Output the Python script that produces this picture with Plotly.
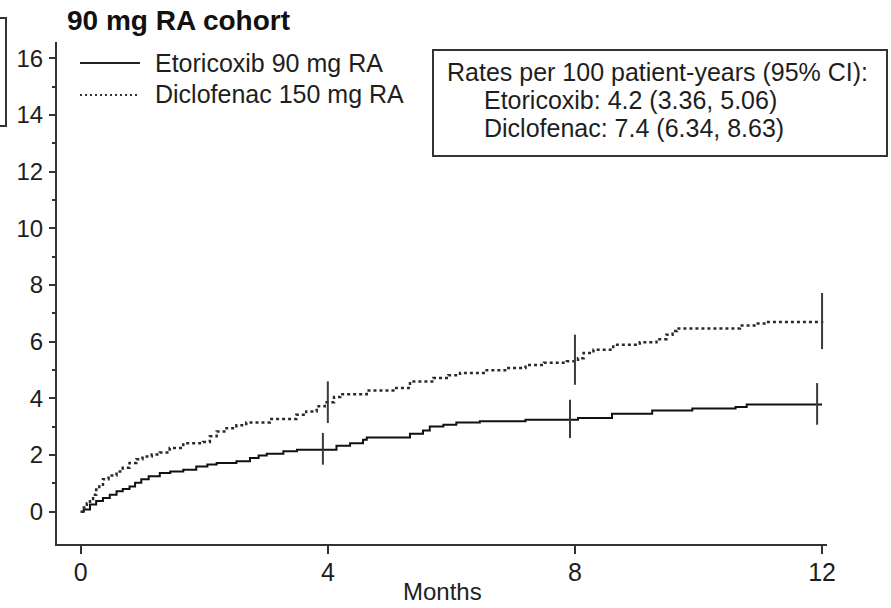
import plotly.graph_objects as go

# Cumulative incidence (%) by month, step curves
etor_months = [0, 0.05, 0.15, 0.25, 0.36, 0.47, 0.58, 0.68, 0.79, 0.88, 0.98, 1.1, 1.28, 1.45,
               1.66, 1.87, 2.05, 2.2, 2.52, 2.74, 2.88, 3.01, 3.28, 3.5, 4.14, 4.36, 4.57, 4.63,
               5.33, 5.54, 5.65, 5.87, 6.08, 6.46, 7.2, 8.05, 8.6, 9.25, 9.9, 10.6, 10.78, 12.0]
etor_values = [0, 0.08, 0.25, 0.38, 0.48, 0.6, 0.72, 0.8, 0.89, 1.02, 1.15, 1.25, 1.37, 1.42,
               1.48, 1.6, 1.67, 1.72, 1.78, 1.9, 1.98, 2.05, 2.13, 2.19, 2.33, 2.42, 2.54, 2.62,
               2.75, 2.87, 3.01, 3.07, 3.15, 3.19, 3.25, 3.31, 3.46, 3.57, 3.64, 3.7, 3.78, 3.78]

diclo_months = [0, 0.05, 0.1, 0.15, 0.2, 0.25, 0.3, 0.36, 0.45, 0.58, 0.68, 0.79, 0.9, 1.0,
                1.15, 1.28, 1.44, 1.66, 1.98, 2.09, 2.2, 2.36, 2.52, 2.68, 3.06, 3.49, 3.65,
                3.82, 3.95, 4.1, 4.2, 4.63, 5.06, 5.33, 5.71, 5.95, 6.14, 6.57, 6.89, 7.2, 7.5,
                7.87, 8.05, 8.14, 8.3, 8.62, 9.05, 9.32, 9.48, 9.58, 9.65, 10.67, 10.94, 11.1, 12.0]
diclo_values = [0, 0.15, 0.3, 0.45, 0.6, 0.78, 0.95, 1.15, 1.28, 1.42, 1.55, 1.72, 1.85, 1.95,
                2.02, 2.09, 2.25, 2.42, 2.46, 2.66, 2.83, 2.95, 3.05, 3.15, 3.27, 3.42, 3.54,
                3.72, 3.86, 4.05, 4.15, 4.28, 4.37, 4.6, 4.72, 4.82, 4.9, 4.99, 5.07, 5.18, 5.26,
                5.31, 5.42, 5.6, 5.72, 5.89, 5.98, 6.09, 6.25, 6.38, 6.47, 6.57, 6.64, 6.7, 6.72]

# 95% confidence intervals at 4, 8 and 12 months
etor_ci_months = [3.92, 7.92, 11.92]
etor_ci_low = [1.66, 2.6, 3.07]
etor_ci_high = [2.78, 3.95, 4.54]
diclo_ci_months = [4.0, 8.0, 12.0]
diclo_ci_low = [3.13, 4.48, 5.74]
diclo_ci_high = [4.6, 6.25, 7.72]

x_ticks = [0, 4, 8, 12]
y_ticks = [0, 2, 4, 6, 8, 10, 12, 14, 16]
y_minor_ticks = [1, 3, 5, 7, 9, 11, 13, 15]

legend_labels = ["Etoricoxib 90 mg RA", "Diclofenac 150 mg RA"]
rate_lines = ["Rates per 100 patient-years (95% CI):",
              "Etoricoxib: 4.2 (3.36, 5.06)",
              "Diclofenac: 7.4 (6.34, 8.63)"]
x_title = "Months"

FONT = "Liberation Sans, Arial, Helvetica, sans-serif"
INK = "#1e1e1e"
W, H = 891, 608
ML, MR, MT, MB = 57, 64, 42, 64
PW, PH = W - ML - MR, H - MT - MB


def px_x(p):
    return (p - ML) / PW


def px_y(p):
    return (H - MB - p) / PH


def ci_segments(xs, lows, highs):
    sx, sy = [], []
    for x, lo, hi in zip(xs, lows, highs):
        sx += [x, x, None]
        sy += [lo, hi, None]
    return sx, sy


fig = go.Figure()

fig.add_trace(go.Scatter(x=etor_months, y=etor_values, mode="lines",
                         line=dict(color="#111111", width=2, shape="hv"),
                         name=legend_labels[0], showlegend=False))
fig.add_trace(go.Scatter(x=diclo_months, y=diclo_values, mode="lines",
                         line=dict(color="#2a2a2a", width=2.5, shape="hv", dash="3px,3px"),
                         name=legend_labels[1], showlegend=False))

ex, ey = ci_segments(etor_ci_months, etor_ci_low, etor_ci_high)
dx, dy = ci_segments(diclo_ci_months, diclo_ci_low, diclo_ci_high)
fig.add_trace(go.Scatter(x=ex, y=ey, mode="lines", line=dict(color="#3a3a3a", width=2),
                         showlegend=False, hoverinfo="skip"))
fig.add_trace(go.Scatter(x=dx, y=dy, mode="lines", line=dict(color="#3a3a3a", width=2),
                         showlegend=False, hoverinfo="skip"))

shapes = [
    # legend samples
    dict(type="line", xref="paper", yref="paper", x0=px_x(80), x1=px_x(140),
         y0=px_y(63), y1=px_y(63), line=dict(color="#222222", width=2)),
    dict(type="line", xref="paper", yref="paper", x0=px_x(80), x1=px_x(140),
         y0=px_y(95), y1=px_y(95), line=dict(color="#333333", width=2, dash="2px,3px")),
    # rates box
    dict(type="rect", xref="paper", yref="paper", x0=px_x(433), x1=px_x(887),
         y0=px_y(156), y1=px_y(50), line=dict(color="#333333", width=2),
         fillcolor="rgba(0,0,0,0)"),
    # neighbouring panel frame edge
    dict(type="rect", xref="paper", yref="paper", x0=px_x(-40), x1=px_x(6),
         y0=px_y(126), y1=px_y(18), line=dict(color="#333333", width=2),
         fillcolor="rgba(0,0,0,0)"),
]

annotations = [
    dict(text="<b>90 mg RA cohort</b>", xref="paper", yref="paper", x=px_x(65), y=px_y(20),
         xanchor="left", yanchor="middle", showarrow=False,
         font=dict(family=FONT, size=28, color="#111111")),
    dict(text=legend_labels[0], xref="paper", yref="paper", x=px_x(153), y=px_y(63),
         xanchor="left", yanchor="middle", showarrow=False,
         font=dict(family=FONT, size=25, color=INK)),
    dict(text=legend_labels[1], xref="paper", yref="paper", x=px_x(153), y=px_y(94),
         xanchor="left", yanchor="middle", showarrow=False,
         font=dict(family=FONT, size=25, color=INK)),
    dict(text=rate_lines[0], xref="paper", yref="paper", x=px_x(445), y=px_y(72),
         xanchor="left", yanchor="middle", showarrow=False,
         font=dict(family=FONT, size=25, color=INK)),
    dict(text=rate_lines[1], xref="paper", yref="paper", x=px_x(482), y=px_y(100),
         xanchor="left", yanchor="middle", showarrow=False,
         font=dict(family=FONT, size=25, color=INK)),
    dict(text=rate_lines[2], xref="paper", yref="paper", x=px_x(482), y=px_y(128),
         xanchor="left", yanchor="middle", showarrow=False,
         font=dict(family=FONT, size=25, color=INK)),
    dict(text=x_title, xref="paper", yref="paper", x=0.5, y=px_y(591),
         xanchor="center", yanchor="middle", showarrow=False,
         font=dict(family=FONT, size=24, color=INK)),
]

fig.update_layout(
    width=W, height=H,
    margin=dict(l=ML, r=MR, t=MT, b=MB, pad=0),
    paper_bgcolor="white", plot_bgcolor="white",
    font=dict(family=FONT, size=25, color=INK),
    showlegend=False,
    shapes=shapes,
    annotations=annotations,
    xaxis=dict(range=[-0.384, 12.08], tickmode="array", tickvals=x_ticks,
               ticktext=[str(v) for v in x_ticks], automargin=False,
               showgrid=False, zeroline=False, showline=True, linecolor="#333333",
               linewidth=2, ticks="outside", ticklen=8, tickwidth=1.5, tickcolor="#333333",
               ticklabelstandoff=-3,
               tickfont=dict(family=FONT, size=25, color=INK)),
    yaxis=dict(range=[-1.14, 16.58], tickmode="array", tickvals=y_ticks,
               ticktext=[str(v) for v in y_ticks], automargin=False,
               showgrid=False, zeroline=False, showline=True, linecolor="#333333",
               linewidth=2, ticks="outside", ticklen=6, tickwidth=1.5, tickcolor="#333333",
               ticklabelstandoff=1,
               tickfont=dict(family=FONT, size=24, color=INK),
               minor=dict(tickmode="array", tickvals=y_minor_ticks, ticks="outside",
                          ticklen=3, tickwidth=1.5, tickcolor="#333333", showgrid=False)),
)

fig.write_html("out.html")
